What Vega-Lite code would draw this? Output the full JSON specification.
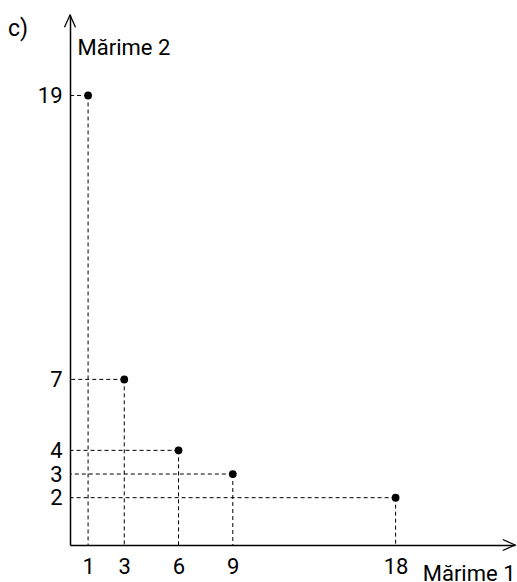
{
  "$schema": "https://vega.github.io/schema/vega-lite/v6.json",
  "width": 445,
  "height": 530,
  "autosize": "none",
  "padding": {"left": 70, "top": 15, "right": 2, "bottom": 37},
  "background": "white",
  "config": {"view": {"stroke": null}, "font": "Roboto"},
  "title": {"text": "c)", "anchor": "start", "frame": "group", "dx": -62, "dy": 33, "fontSize": 23, "fontWeight": "normal", "font": "Roboto", "color": "black"},
  "data": {"values": [
    {"a": 1, "b": 19},
    {"a": 3, "b": 7},
    {"a": 6, "b": 4},
    {"a": 9, "b": 3},
    {"a": 18, "b": 2}
  ]},
  "layer": [
    {
      "mark": {"type": "rule", "strokeDash": [4, 3], "color": "black", "strokeWidth": 1},
      "encoding": {
        "x": {"field": "a", "type": "quantitative",
          "scale": {"domain": [0, 24.6], "nice": false, "zero": false},
          "axis": {"values": [1, 3, 6, 9, 18], "ticks": false, "grid": false, "domainColor": "black", "domainWidth": 1.5,
            "labelFontSize": 22, "labelColor": "black", "labelPadding": 11, "labelFont": "Roboto", "labelOverlap": false,
            "title": "Mărime 1", "titleFont": "Roboto", "titleFontSize": 22, "titleFontWeight": "normal", "titleColor": "black",
            "titleAnchor": "end", "titleAlign": "right", "titleX": 445, "titleY": 35, "titleBaseline": "alphabetic"}},
        "y": {"field": "b", "type": "quantitative",
          "scale": {"domain": [0, 22.4], "nice": false, "zero": false},
          "axis": {"values": [2, 3, 4, 7, 19], "ticks": false, "grid": false, "domainColor": "black", "domainWidth": 1.5,
            "labelFontSize": 22, "labelColor": "black", "labelPadding": 8, "labelFont": "Roboto", "labelOverlap": false,
            "title": "Mărime 2", "titleFont": "Roboto", "titleFontSize": 22, "titleFontWeight": "normal", "titleColor": "black",
            "titleAngle": 0, "titleAlign": "left", "titleX": 7, "titleY": 32, "titleBaseline": "middle"}},
        "y2": {"datum": 0}
      }
    },
    {
      "mark": {"type": "rule", "strokeDash": [4, 3], "color": "black", "strokeWidth": 1},
      "encoding": {
        "y": {"field": "b", "type": "quantitative"},
        "x": {"field": "a", "type": "quantitative"},
        "x2": {"datum": 0}
      }
    },
    {
      "mark": {"type": "point", "filled": true, "size": 60, "color": "black", "opacity": 1},
      "encoding": {
        "x": {"field": "a", "type": "quantitative"},
        "y": {"field": "b", "type": "quantitative"}
      }
    },
    {
      "data": {"values": [{"k": 1}]},
      "mark": {"type": "point", "shape": "M-0.45,1L0,0L0.45,1", "size": 600, "filled": false, "stroke": "black", "strokeWidth": 1.3, "opacity": 1},
      "encoding": {
        "x": {"datum": 0, "type": "quantitative"},
        "y": {"datum": 22.4, "type": "quantitative"}
      }
    },
    {
      "data": {"values": [{"k": 1}]},
      "mark": {"type": "point", "shape": "M-1,-0.45L0,0L-1,0.45", "size": 600, "filled": false, "stroke": "black", "strokeWidth": 1.3, "opacity": 1},
      "encoding": {
        "x": {"datum": 24.6, "type": "quantitative"},
        "y": {"datum": 0, "type": "quantitative"}
      }
    }
  ]
}
